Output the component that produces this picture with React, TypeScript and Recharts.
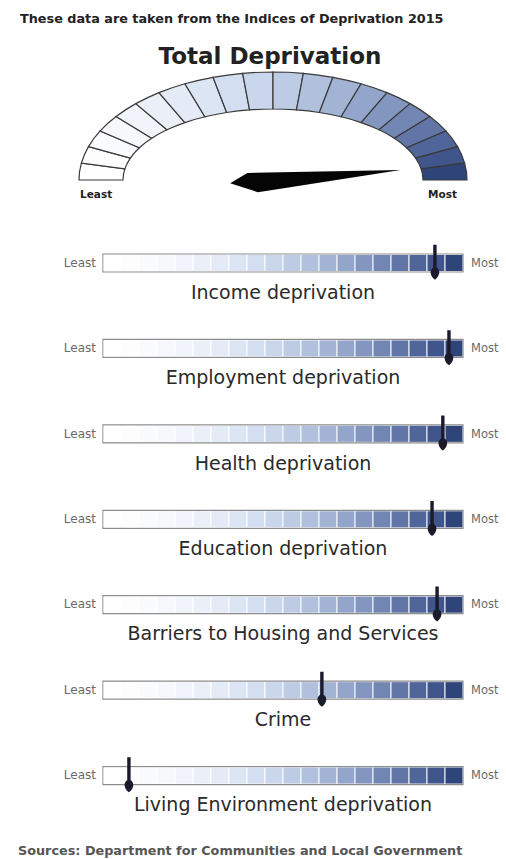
import { PieChart, Pie, ComposedChart, Bar, Scatter, XAxis, YAxis } from "recharts";

const FONT = "'DejaVu Sans', Verdana, sans-serif";

// 20 colour steps from least (white) to most (navy) deprived
const segmentColors = [
  "#ffffff", "#fdfdfe", "#fafbfd", "#f6f8fc", "#f1f4fa",
  "#ebf0f8", "#e4ebf6", "#dce5f3", "#d3def0", "#c9d6eb",
  "#bdcbe4", "#b0c0dd", "#a2b3d4", "#93a5ca", "#8396bf",
  "#7286b3", "#6176a7", "#50659a", "#40558b", "#2f457a",
];
const SEGMENTS = segmentColors.length;

const totalScore = 0.975;

const domainNames = [
  "Income deprivation",
  "Employment deprivation",
  "Health deprivation",
  "Education deprivation",
  "Barriers to Housing and Services",
  "Crime",
  "Living Environment deprivation",
];
const domainScores = [0.922, 0.961, 0.944, 0.914, 0.928, 0.608, 0.072];

const gaugeData = segmentColors.map((c, i) => ({ seg: i, v: 1, fill: c }));
const needleData = [
  { kind: "needle", v: totalScore },
  { kind: "rest", v: 1 - totalScore },
];

const barData = domainNames.map((name, i) => {
  const row: Record<string, any> = { name, pos: domainScores[i] * SEGMENTS };
  segmentColors.forEach((_, j) => (row[`s${j}`] = 1));
  return row;
});

const GAUGE_CX = 273;
const GAUGE_CY = 180;
const OUTER_RX = 194;
const OUTER_RY = 108;
const INNER_RX = 150;
const INNER_RY = 71;

const PLOT_LEFT = 103;
const PLOT_RIGHT = 463;

// elliptical ring sector, so the gauge is squashed like the original
function EllipseSector(props: any) {
  const { cx, cy, startAngle, endAngle, fill } = props;
  const rad = Math.PI / 180;
  const pt = (rx: number, ry: number, a: number) =>
    `${cx + rx * Math.cos(a * rad)},${cy - ry * Math.sin(a * rad)}`;
  const sweep = startAngle > endAngle ? 1 : 0;
  const d = [
    `M${pt(OUTER_RX, OUTER_RY, startAngle)}`,
    `A${OUTER_RX},${OUTER_RY} 0 0 ${sweep} ${pt(OUTER_RX, OUTER_RY, endAngle)}`,
    `L${pt(INNER_RX, INNER_RY, endAngle)}`,
    `A${INNER_RX},${INNER_RY} 0 0 ${1 - sweep} ${pt(INNER_RX, INNER_RY, startAngle)}`,
    "Z",
  ].join(" ");
  return <path d={d} fill={fill} stroke="#3a3a3a" strokeWidth={1.2} />;
}

function Needle(props: any) {
  const { cx, cy, endAngle, payload } = props;
  if (!payload || payload.kind !== "needle") return <g />;
  const a = (endAngle * Math.PI) / 180;
  const ux = Math.cos(a);
  const uy = -Math.sin(a);
  const nx = -uy;
  const ny = ux;
  const p = (along: number, side: number) =>
    `${cx + ux * along + nx * side},${cy + uy * along + ny * side}`;
  const d = `M${p(-43, 0)} L${p(-25, -9)} L${p(128, 0)} L${p(-16, 11)} Z`;
  return <path d={d} fill="#050505" />;
}

function Segment(props: any) {
  const { x, y, width, height, fill } = props;
  if (!width || !height) return null;
  return <rect x={x + 0.5} y={y + 1} width={Math.max(0, width - 1.2)} height={height - 2} fill={fill} />;
}

function Marker(props: any) {
  const { cx, cy } = props;
  const d = `M${cx - 1.7},${cy - 18} L${cx + 1.7},${cy - 18} L${cx + 1.7},${cy + 5}
    C${cx + 5.5},${cy + 7} ${cx + 5.5},${cy + 13} ${cx},${cy + 17}
    C${cx - 5.5},${cy + 13} ${cx - 5.5},${cy + 7} ${cx - 1.7},${cy + 5} Z`;
  return <path d={d} fill="#1b1a2c" />;
}

function DomainTick(props: any) {
  const { y, payload } = props;
  return (
    <g fontFamily={FONT}>
      <text x={96} y={y} textAnchor="end" dominantBaseline="central" fontSize={12} fill="#6a6a6a">
        Least
      </text>
      <text x={471} y={y} dominantBaseline="central" fontSize={11.5} fill="#6a6a6a">
        Most
      </text>
      <text x={(PLOT_LEFT + PLOT_RIGHT) / 2} y={y + 29} textAnchor="middle" dominantBaseline="central" fontSize={19} fill="#2a2a2a">
        {payload.value}
      </text>
    </g>
  );
}

export default function App() {
  return (
    <div style={{ position: "absolute", left: 0, top: 0, width: 506, height: 859, background: "#fff", fontFamily: FONT }}>
      <div style={{ position: "absolute", left: 20, top: 11, fontSize: 12.8, fontWeight: "bold", color: "#222", whiteSpace: "nowrap" }}>
        These data are taken from the Indices of Deprivation 2015
      </div>
      <div style={{ position: "absolute", left: 0, width: 540, top: 43, textAlign: "center", fontSize: 23, fontWeight: "bold", color: "#222", whiteSpace: "nowrap" }}>
        Total Deprivation
      </div>

      <div style={{ position: "absolute", left: 0, top: 0 }}>
        <PieChart width={506} height={215} margin={{ top: 0, right: 0, bottom: 0, left: 0 }}>
          <Pie
            data={gaugeData}
            dataKey="v"
            cx={GAUGE_CX}
            cy={GAUGE_CY}
            startAngle={180}
            endAngle={0}
            innerRadius={INNER_RX}
            outerRadius={OUTER_RX}
            shape={EllipseSector}
            isAnimationActive={false}
          />
          <Pie
            data={needleData}
            dataKey="v"
            cx={GAUGE_CX}
            cy={GAUGE_CY}
            startAngle={180}
            endAngle={0}
            innerRadius={0}
            outerRadius={128}
            shape={Needle}
            stroke="none"
            isAnimationActive={false}
          />
        </PieChart>
      </div>
      <div style={{ position: "absolute", left: 80, top: 188, fontSize: 10.5, fontWeight: "bold", color: "#222" }}>Least</div>
      <div style={{ position: "absolute", left: 428, top: 188, fontSize: 10.5, fontWeight: "bold", color: "#222" }}>Most</div>

      <div style={{ position: "absolute", left: 0, top: 220 }}>
        <ComposedChart
          layout="vertical"
          width={506}
          height={598}
          data={barData}
          margin={{ top: 0, right: 506 - PLOT_RIGHT, bottom: 0, left: 0 }}
        >
          <XAxis type="number" domain={[0, SEGMENTS]} hide allowDataOverflow />
          <YAxis
            type="category"
            dataKey="name"
            width={PLOT_LEFT}
            axisLine={false}
            tickLine={false}
            interval={0}
            tick={DomainTick}
          />
          {segmentColors.map((c, i) => (
            <Bar
              key={c}
              dataKey={`s${i}`}
              stackId="a"
              fill={c}
              barSize={18}
              shape={Segment}
              background={i === 0 ? { fill: "none", stroke: "#8c8c8c", strokeWidth: 1.2 } : undefined}
              isAnimationActive={false}
            />
          ))}
          <Scatter dataKey="pos" shape={Marker} isAnimationActive={false} />
        </ComposedChart>
      </div>

      <div style={{ position: "absolute", left: 18, top: 843, fontSize: 12.8, fontWeight: "bold", color: "#555", whiteSpace: "nowrap" }}>
        Sources: Department for Communities and Local Government
      </div>
    </div>
  );
}
